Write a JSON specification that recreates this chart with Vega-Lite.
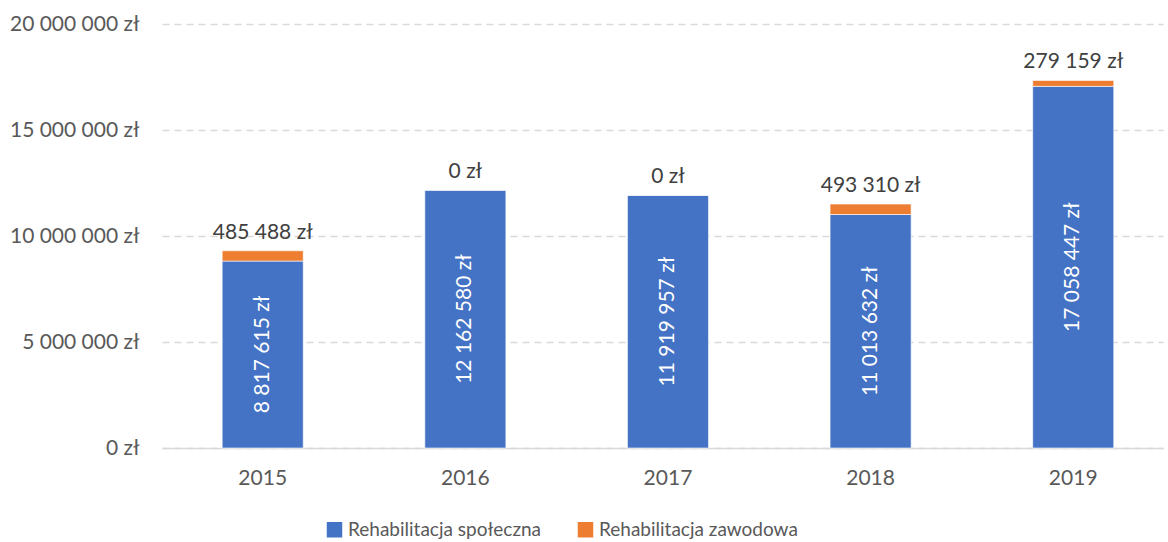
{
  "$schema": "https://vega.github.io/schema/vega-lite/v6.json",
  "autosize": {"type": "none"},
  "padding": {"left": 162, "top": 24, "right": 5, "bottom": 94},
  "width": 1001,
  "height": 424,
  "background": "#ffffff",
  "config": {
    "view": {"stroke": null},
    "font": "Lato",
    "locale": {"number": {"decimal": ",", "thousands": " ", "grouping": [3], "currency": ["", " zł"]}}
  },
  "data": {
    "values": [
      {"year": "2015", "category": "Rehabilitacja społeczna", "value": 8817615},
      {"year": "2015", "category": "Rehabilitacja zawodowa", "value": 485488},
      {"year": "2016", "category": "Rehabilitacja społeczna", "value": 12162580},
      {"year": "2016", "category": "Rehabilitacja zawodowa", "value": 0},
      {"year": "2017", "category": "Rehabilitacja społeczna", "value": 11919957},
      {"year": "2017", "category": "Rehabilitacja zawodowa", "value": 0},
      {"year": "2018", "category": "Rehabilitacja społeczna", "value": 11013632},
      {"year": "2018", "category": "Rehabilitacja zawodowa", "value": 493310},
      {"year": "2019", "category": "Rehabilitacja społeczna", "value": 17058447},
      {"year": "2019", "category": "Rehabilitacja zawodowa", "value": 279159}
    ]
  },
  "encoding": {
    "x": {
      "field": "year", "type": "nominal",
      "scale": {"paddingInner": 0.6, "paddingOuter": 0.27, "align": 0.55},
      "axis": {
        "title": null, "labelAngle": 0, "labelFontSize": 21, "labelColor": "#595959",
        "labelPadding": 19, "ticks": false, "domainColor": "#d9d9d9", "domainWidth": 1.5, "grid": false
      }
    }
  },
  "layer": [
    {
      "layer": [
        {
          "mark": {"type": "bar", "stroke": "#ffffff", "strokeWidth": 0.6},
          "encoding": {
            "y": {
              "field": "value", "type": "quantitative", "stack": "zero",
              "scale": {"domain": [0, 20000000], "nice": false},
              "axis": {
                "title": null, "format": "$,d", "values": [0, 5000000, 10000000, 15000000, 20000000],
                "labelFontSize": 21, "labelColor": "#595959", "labelPadding": 23,
                "ticks": false, "domain": false,
                "gridColor": "#d9d9d9", "gridWidth": 1.3, "gridDash": [7, 5]
              }
            },
            "color": {
              "field": "category", "type": "nominal",
              "scale": {"domain": ["Rehabilitacja społeczna", "Rehabilitacja zawodowa"], "range": ["#4472C4", "#ED7D31"]},
              "legend": {
                "title": null, "orient": "none", "legendX": 163, "legendY": 496, "direction": "horizontal",
                "symbolType": "square", "symbolSize": 240, "symbolStrokeWidth": 0,
                "labelFontSize": 19, "labelColor": "#595959", "labelLimit": 400, "columnPadding": 34,
                "labelOffset": 4
              }
            },
            "order": {"field": "category", "sort": "ascending"}
          }
        },
        {
          "transform": [
            {"joinaggregate": [{"op": "sum", "field": "value", "as": "total"}], "groupby": ["year"]},
            {"filter": "datum.category === 'Rehabilitacja zawodowa'"}
          ],
          "mark": {"type": "text", "baseline": "bottom", "dy": -8, "fontSize": 21, "color": "#404040"},
          "encoding": {
            "y": {"field": "total", "type": "quantitative", "scale": {"domain": [0, 20000000], "nice": false}},
            "text": {"field": "value", "type": "quantitative", "format": "$,d"}
          }
        }
      ]
    },
    {
      "transform": [{"filter": "datum.category === 'Rehabilitacja społeczna'"}],
      "mark": {"type": "text", "angle": 270, "baseline": "middle", "align": "center", "fontSize": 21, "color": "#ffffff"},
      "encoding": {
        "y": {"field": "value", "type": "quantitative", "scale": {"domain": [0, 40000000], "nice": false}, "axis": null},
        "text": {"field": "value", "type": "quantitative", "format": "$,d"}
      }
    }
  ],
  "resolve": {"scale": {"y": "independent"}}
}
